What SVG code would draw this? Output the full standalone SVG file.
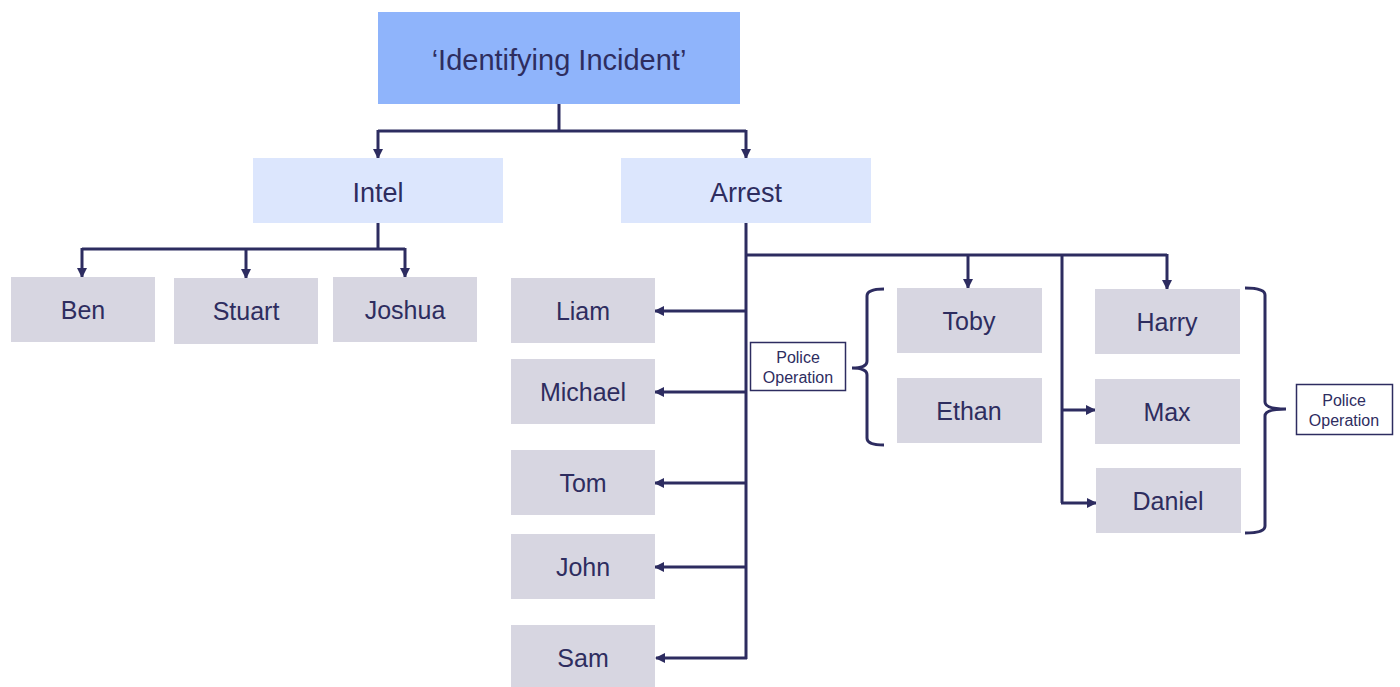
<svg xmlns="http://www.w3.org/2000/svg" width="1400" height="687" viewBox="0 0 1400 687">
<defs>
<marker id="ah" viewBox="0 0 10 10" refX="9" refY="5" markerWidth="10" markerHeight="10" markerUnits="userSpaceOnUse" orient="auto">
<path d="M0,0 L10,5 L0,10 z" fill="#2d2c60"/>
</marker>
<style>
.top{fill:#8fb4fb}
.mid{fill:#dce6fd}
.nm{fill:#d7d6e1}
.t{font-family:"Liberation Sans",Arial,sans-serif;fill:#2e2d5f;text-anchor:middle}
.big{font-size:29px}
.lv2{font-size:27px}
.n{font-size:25px}
.sm{font-size:16px}
.ln{fill:none;stroke:#2d2c60;stroke-width:3}
.arr{fill:none;stroke:#2d2c60;stroke-width:3;marker-end:url(#ah)}
.po{fill:#fff;stroke:#2d2c60;stroke-width:1.5}
</style>
</defs>
<rect width="1400" height="687" fill="#fff"/>
<g id="connectors">
<path class="ln" d="M559,104 V131 M378,131 H746"/>
<path class="arr" d="M378,130 V158"/>
<path class="arr" d="M746,130 V158"/>
<path class="ln" d="M378,223 V249 M82,249 H405"/>
<path class="arr" d="M82,248 V277"/>
<path class="arr" d="M246,248 V278"/>
<path class="arr" d="M405,248 V277"/>
<path class="ln" d="M746,223 V659 M746,255 H1167 M1062,255 V503"/>
<path class="arr" d="M968,254 V288"/>
<path class="arr" d="M1167,254 V289"/>
<path class="arr" d="M1061,410 H1095"/>
<path class="arr" d="M1061,503 H1096"/>
<path class="arr" d="M747,311 H655"/>
<path class="arr" d="M747,392 H655"/>
<path class="arr" d="M747,483 H655"/>
<path class="arr" d="M747,567 H655"/>
<path class="arr" d="M747,658 H656"/>
<path class="ln" d="M884,289 Q867,289 867,296 V361 Q867,368 852,368 Q867,368 867,375 V438 Q867,445 884,445"/>
<path class="ln" d="M1245,288 Q1265,288 1265,295 V402 Q1265,409 1286,409 Q1265,409 1265,416 V526 Q1265,533 1245,533"/>
</g>
<g id="identifying-incident"><rect class="top" x="378" y="12" width="362" height="92"/><text class="t big" x="559" y="70">‘Identifying Incident’</text></g>
<g id="intel"><rect class="mid" x="253" y="158" width="250" height="65"/><text class="t lv2" x="378" y="202">Intel</text></g>
<g id="arrest"><rect class="mid" x="621" y="158" width="250" height="65"/><text class="t lv2" x="746" y="202">Arrest</text></g>
<g id="ben"><rect class="nm" x="11" y="277" width="144" height="65"/><text class="t n" x="83" y="319">Ben</text></g>
<g id="stuart"><rect class="nm" x="174" y="278" width="144" height="66"/><text class="t n" x="246" y="320">Stuart</text></g>
<g id="joshua"><rect class="nm" x="333" y="277" width="144" height="65"/><text class="t n" x="405" y="319">Joshua</text></g>
<g id="liam"><rect class="nm" x="511" y="278" width="144" height="65"/><text class="t n" x="583" y="320">Liam</text></g>
<g id="michael"><rect class="nm" x="511" y="359" width="144" height="65"/><text class="t n" x="583" y="401">Michael</text></g>
<g id="tom"><rect class="nm" x="511" y="450" width="144" height="65"/><text class="t n" x="583" y="492">Tom</text></g>
<g id="john"><rect class="nm" x="511" y="534" width="144" height="65"/><text class="t n" x="583" y="576">John</text></g>
<g id="sam"><rect class="nm" x="511" y="625" width="144" height="62"/><text class="t n" x="583" y="667">Sam</text></g>
<g id="toby"><rect class="nm" x="897" y="288" width="145" height="65"/><text class="t n" x="969" y="330">Toby</text></g>
<g id="ethan"><rect class="nm" x="897" y="378" width="145" height="65"/><text class="t n" x="969" y="420">Ethan</text></g>
<g id="harry"><rect class="nm" x="1095" y="289" width="145" height="65"/><text class="t n" x="1167" y="331">Harry</text></g>
<g id="max"><rect class="nm" x="1095" y="379" width="145" height="65"/><text class="t n" x="1167" y="421">Max</text></g>
<g id="daniel"><rect class="nm" x="1096" y="468" width="145" height="65"/><text class="t n" x="1168" y="510">Daniel</text></g>
<g id="police-operation-1"><rect class="po" x="750.5" y="342.5" width="95" height="48"/><text class="t sm" x="798" y="363">Police</text><text class="t sm" x="798" y="383">Operation</text></g>
<g id="police-operation-2"><rect class="po" x="1296.5" y="384.5" width="96" height="50"/><text class="t sm" x="1344" y="406">Police</text><text class="t sm" x="1344" y="426">Operation</text></g>
</svg>
